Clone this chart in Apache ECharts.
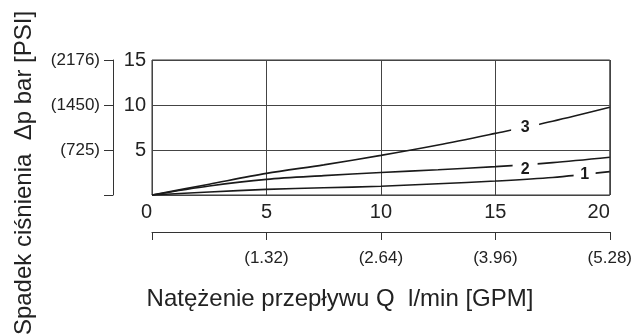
<!DOCTYPE html>
<html><head><meta charset="utf-8">
<script src="https://cdn.jsdelivr.net/npm/echarts@6/dist/echarts.min.js"></script>
<style>html,body{margin:0;padding:0;background:#fff}#c{width:635px;height:334px}</style>
</head><body><div id="c"></div>
<script>
const flow = [0, 2.5, 5, 7.5, 10, 12.5, 15, 17.5, 20];
const curve1 = [0, 0.33, 0.62, 0.8, 0.97, 1.25, 1.55, 1.95, 2.6];
const curve2 = [0, 1.0, 1.74, 2.15, 2.5, 2.8, 3.15, 3.6, 4.2];
const curve3 = [0, 1.2, 2.4, 3.35, 4.4, 5.55, 6.85, 8.2, 9.75];
const curveNames = ['1', '2', '3'];
const curveLabelAt = [[18.9, 2.3], [16.3, 2.8], [16.3, 7.5]];
const curveGapWidth = [22, 25, 28];
const barTicks = [0, 5, 10, 15];
const psiLabels = ['', '(725)', '(1450)', '(2176)'];
const lpmTicks = [0, 5, 10, 15, 20];
const gpmLabels = ['', '(1.32)', '(2.64)', '(3.96)', '(5.28)'];
const xTitle = 'Natężenie przepływu Q  l/min [GPM]';
const yTitle = 'Spadek ciśnienia  Δp bar [PSI]';

const FONT = "'Liberation Sans', Arial, Helvetica, sans-serif";
const NARROW = "'Liberation Sans Narrow', 'Liberation Sans', Arial, sans-serif";
const curves = [curve1, curve2, curve3];

const chart = echarts.init(document.getElementById('c'), null, {renderer: 'canvas'});
chart.setOption({
  animation: false,
  backgroundColor: '#fff',
  grid: {left: 152, right: 21, top: 60, bottom: 139, show: true, borderColor: '#333', borderWidth: 1},
  xAxis: [
    {type: 'value', min: 0, max: 20, interval: 5,
     axisLine: {show: false}, axisTick: {show: false},
     splitLine: {show: true, lineStyle: {color: '#444', width: 1}},
     axisLabel: {fontSize: 20, fontFamily: NARROW, color: '#222', margin: 7,
       alignMinLabel: 'right', alignMaxLabel: 'right'}},
    {type: 'value', min: 0, max: 20, interval: 5, position: 'bottom', offset: 37,
     axisLine: {show: true, onZero: false, lineStyle: {color: '#333', width: 1}},
     axisTick: {show: true, length: 8, lineStyle: {color: '#333'}},
     splitLine: {show: false},
     axisLabel: {fontSize: 17, fontFamily: FONT, color: '#222', margin: 18,
       formatter: v => { const i = lpmTicks.indexOf(v); return i >= 0 ? gpmLabels[i] : ''; }}}
  ],
  yAxis: [
    {type: 'value', min: 0, max: 15, interval: 5,
     axisLine: {show: false}, axisTick: {show: false},
     splitLine: {show: true, lineStyle: {color: '#444', width: 1}},
     axisLabel: {fontSize: 20, fontFamily: NARROW, color: '#222', margin: 6,
       formatter: v => v === 0 ? '' : String(v)}},
    {type: 'value', min: 0, max: 15, interval: 5, position: 'left', offset: 39,
     axisLine: {show: true, onZero: false, lineStyle: {color: '#333', width: 1}},
     axisTick: {show: true, length: 9, lineStyle: {color: '#333'}},
     splitLine: {show: false},
     axisLabel: {fontSize: 17, fontFamily: FONT, color: '#222', margin: 13,
       formatter: v => { const i = barTicks.indexOf(v); return i >= 0 ? psiLabels[i] : ''; }}}
  ],
  graphic: [
    {type: 'text', x: 340, y: 299,
     style: {text: xTitle, fontSize: 24, fontFamily: FONT, fill: '#222', align: 'center', verticalAlign: 'middle'}},
    {type: 'text', x: 24, y: 173, rotation: Math.PI / 2,
     style: {text: yTitle, fontSize: 24, fontFamily: FONT, fill: '#222', align: 'center', verticalAlign: 'middle'}}
  ],
  series: curves.map((c, k) => ({
    type: 'line', xAxisIndex: 0, yAxisIndex: 0, smooth: 0.3, symbol: 'none',
    lineStyle: {color: '#1a1a1a', width: 1.6},
    data: flow.map((x, i) => [x, c[i]]),
    markPoint: {
      z: 10,
      symbol: 'rect', symbolSize: [curveGapWidth[k], 14],
      itemStyle: {color: '#fff'},
      label: {show: true, position: 'inside', formatter: curveNames[k], color: '#1a1a1a',
        fontSize: 16, fontWeight: 'bold', fontFamily: FONT},
      data: [{coord: curveLabelAt[k]}]
    }
  }))
});
</script></body></html>
